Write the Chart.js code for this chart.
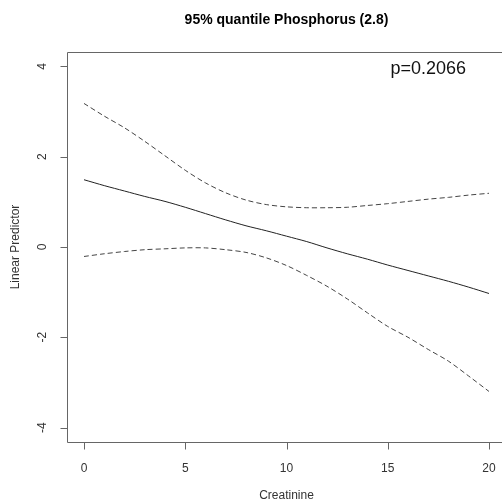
<!DOCTYPE html>
<html>
<head>
<meta charset="utf-8">
<script src="https://cdn.jsdelivr.net/npm/chart.js@4"></script>
<style>
  html, body { margin: 0; padding: 0; background: #fff; overflow: hidden; width: 502px; height: 502px; }
  #wrap { width: 510px; height: 502px; }
</style>
</head>
<body>
<div id="wrap"><canvas id="c" width="510" height="502"></canvas></div>
<script>
// Creatinine grid and fitted linear predictor with 95% band
const creatinine = [0, 1, 2, 3, 4, 5, 6, 7, 8, 9, 10, 11, 12, 13, 14, 15, 16, 17, 18, 19, 20];
const fit   = [1.49, 1.36, 1.24, 1.12, 1.01, 0.88, 0.74, 0.60, 0.47, 0.36, 0.24, 0.12, -0.02, -0.15, -0.27, -0.40, -0.52, -0.64, -0.76, -0.89, -1.03];
const upper = [3.18, 2.90, 2.64, 2.34, 2.02, 1.70, 1.42, 1.20, 1.04, 0.94, 0.89, 0.87, 0.87, 0.88, 0.92, 0.96, 1.01, 1.06, 1.10, 1.15, 1.19];
const lower = [-0.21, -0.15, -0.10, -0.06, -0.04, -0.02, -0.02, -0.06, -0.12, -0.24, -0.41, -0.63, -0.87, -1.15, -1.46, -1.76, -2.00, -2.27, -2.53, -2.86, -3.20];

const xTicks = [0, 5, 10, 15, 20];
const yTicks = [-4, -2, 0, 2, 4];
const titleText = "95% quantile Phosphorus (2.8)";
const xLabel = "Creatinine";
const yLabel = "Linear Predictor";
const pText = "p=0.2066";
const pPos = { x: 17, y: 4 };

const pts = ys => creatinine.map((x, i) => ({ x: x, y: ys[i] }));

const FONT = "'Liberation Sans', Arial, sans-serif";

// R-style frame: box, outward ticks, rotated y labels, titles
const rFrame = {
  id: 'rFrame',
  afterDraw(chart) {
    const ctx = chart.ctx;
    const a = chart.chartArea;
    const xs = chart.scales.x, ys = chart.scales.y;
    ctx.save();
    ctx.strokeStyle = '#666';
    ctx.lineWidth = 1;
    // box
    ctx.beginPath();
    ctx.rect(Math.round(a.left) + 0.5, Math.round(a.top) + 0.5,
             Math.round(a.right - a.left), Math.round(a.bottom - a.top));
    ctx.stroke();
    // x ticks
    const yb = Math.round(a.bottom) + 0.5;
    ctx.beginPath();
    xTicks.forEach(v => {
      const px = Math.round(xs.getPixelForValue(v)) + 0.5;
      ctx.moveTo(px, yb); ctx.lineTo(px, yb + 7);
    });
    // y ticks
    const xl = Math.round(a.left) + 0.5;
    yTicks.forEach(v => {
      const py = Math.round(ys.getPixelForValue(v)) + 0.5;
      ctx.moveTo(xl, py); ctx.lineTo(xl - 7, py);
    });
    ctx.stroke();

    ctx.fillStyle = '#333';
    ctx.font = '12px ' + FONT;
    ctx.textAlign = 'center';
    ctx.textBaseline = 'middle';
    xTicks.forEach(v => {
      ctx.fillText(String(v), xs.getPixelForValue(v), a.bottom + 27);
    });
    yTicks.forEach(v => {
      ctx.save();
      ctx.translate(a.left - 24, ys.getPixelForValue(v));
      ctx.rotate(-Math.PI / 2);
      ctx.fillText(String(v), 0, 0);
      ctx.restore();
    });
    // axis titles
    const cx = (a.left + a.right) / 2;
    ctx.fillText(xLabel, cx, a.bottom + 54);
    ctx.save();
    ctx.translate(16, (a.top + a.bottom) / 2);
    ctx.rotate(-Math.PI / 2);
    ctx.fillText(yLabel, 0, 0);
    ctx.restore();
    // main title
    ctx.fillStyle = '#000';
    ctx.font = 'bold 14px ' + FONT;
    ctx.fillText(titleText, cx, 20);
    // p-value annotation placed in data coordinates
    ctx.font = '18px ' + FONT;
    ctx.fillStyle = '#111';
    ctx.fillText(pText, xs.getPixelForValue(pPos.x), ys.getPixelForValue(pPos.y) + 3);
    ctx.restore();
  }
};

new Chart(document.getElementById('c'), {
  type: 'scatter',
  data: {
    datasets: [
      { data: pts(fit), showLine: true, borderColor: '#222', borderWidth: 1, pointRadius: 0, tension: 0.3 },
      { data: pts(upper), showLine: true, borderColor: '#444', borderWidth: 1, borderDash: [5, 3], pointRadius: 0, tension: 0.3 },
      { data: pts(lower), showLine: true, borderColor: '#444', borderWidth: 1, borderDash: [5, 3], pointRadius: 0, tension: 0.3 }
    ]
  },
  options: {
    responsive: false,
    animation: false,
    layout: { padding: { left: 67, top: 52, right: 4, bottom: 60 } },
    plugins: { legend: { display: false }, tooltip: { enabled: false }, title: { display: false } },
    scales: {
      x: { type: 'linear', min: -0.84, max: 20.84, display: false },
      y: { type: 'linear', min: -4.32, max: 4.32, display: false }
    }
  },
  plugins: [rFrame]
});
</script>
</body>
</html>
